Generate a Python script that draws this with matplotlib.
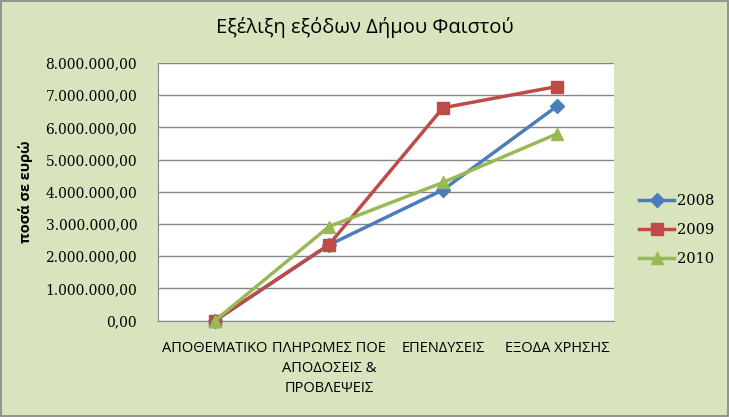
import matplotlib
matplotlib.use("Agg")
import matplotlib.pyplot as plt
from matplotlib.ticker import FuncFormatter
from matplotlib.patches import Rectangle

categories = ["ΑΠΟΘΕΜΑΤΙΚΟ", "ΠΛΗΡΩΜΕΣ ΠΟΕ\nΑΠΟΔΟΣΕΙΣ &\nΠΡΟΒΛΕΨΕΙΣ", "ΕΠΕΝΔΥΣΕΙΣ", "ΕΞΟΔΑ ΧΡΗΣΗΣ"]
series_names = ["2008", "2009", "2010"]
values_2008 = [0, 2350000, 4060000, 6660000]
values_2009 = [0, 2360000, 6610000, 7270000]
values_2010 = [0, 2920000, 4290000, 5800000]
yticks = [0, 1000000, 2000000, 3000000, 4000000, 5000000, 6000000, 7000000, 8000000]

bg = "#D7E4BD"
colors = ["#4A7EBB", "#BE4B48", "#98B954"]
markers = ["D", "s", "^"]
msizes = [7, 9, 9]

sans = ["Open Sans", "DejaVu Sans"]
serif = ["DejaVu Serif"]

fig = plt.figure(figsize=(7.29, 4.17), dpi=100, facecolor=bg)
fig.patches.append(Rectangle((0.001, 0.002), 0.997, 0.995, transform=fig.transFigure,
                             fill=False, edgecolor="#868686", linewidth=1.2))
ax = fig.add_axes([158/729, 1-320.6/417, 456/729, 257.6/417])
ax.set_facecolor("white")

x = list(range(len(categories)))
for vals, name, c, m, ms in zip([values_2008, values_2009, values_2010], series_names, colors, markers, msizes):
    ax.plot(x, vals, color=c, marker=m, markersize=ms, linewidth=2.5, label=name,
            markeredgecolor=c, clip_on=False, zorder=3)

ax.set_xlim(-0.5, len(categories) - 0.5)
ax.set_ylim(0, 8000000)
ax.set_yticks(yticks)

def fmt(v, pos):
    s = f"{int(round(v)):,}".replace(",", ".")
    return s + ",00"
ax.yaxis.set_major_formatter(FuncFormatter(fmt))
ax.grid(axis="y", color="#868686", linewidth=1)
ax.set_axisbelow(True)
for side in ["top", "right"]:
    ax.spines[side].set_visible(False)
ax.spines["left"].set_color("#868686")
ax.spines["bottom"].set_color("#868686")
ax.tick_params(axis="y", length=0, pad=15, labelsize=10, labelcolor="black")
ax.tick_params(axis="x", length=0, pad=15, labelcolor="black")
for lab in ax.get_yticklabels():
    lab.set_fontfamily(serif)
ax.set_xticks(x)
ax.set_xticklabels(categories, fontsize=10.5, family=sans, linespacing=1.45, va="top")

ax.set_ylabel("ποσά σε ευρώ", fontsize=10.5, fontweight="bold", family=sans)
ax.yaxis.set_label_coords(-0.275, 0.5)

fig.text(365/729, 1-28/417, "Εξέλιξη εξόδων Δήμου Φαιστού", ha="center", va="center",
         fontsize=14.5, family=sans, color="black")

leg = fig.legend(loc="center left", bbox_to_anchor=(626/729, 1-230/417), frameon=False,
                 prop={"family": serif, "size": 10.5}, handlelength=2.4, labelspacing=1.05,
                 handletextpad=0.2)

fig.savefig("out.png", dpi=100, facecolor=bg)
